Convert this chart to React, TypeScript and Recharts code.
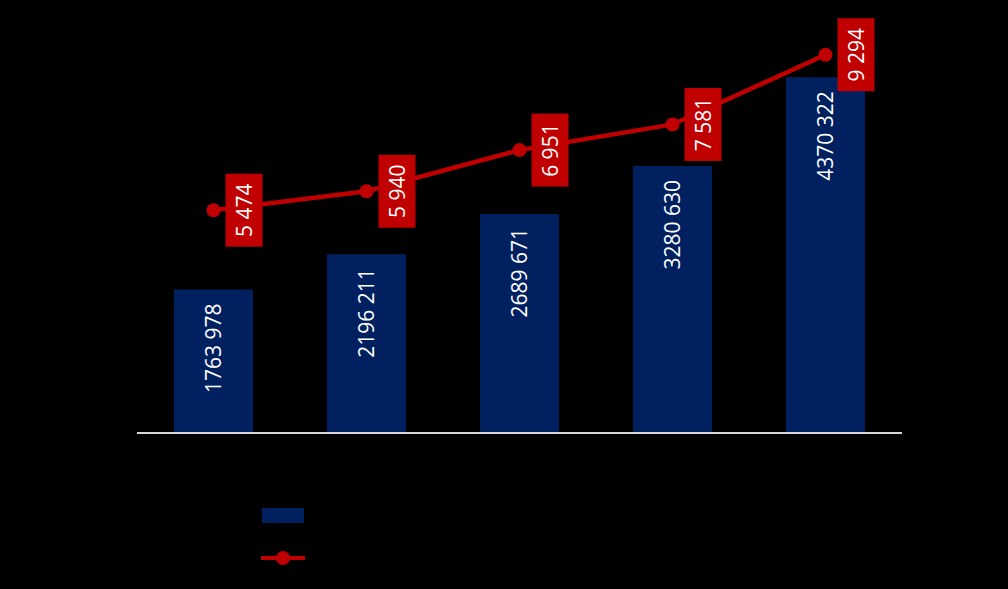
import { ComposedChart, Bar, Line, XAxis, YAxis, LabelList } from 'recharts';

// category labels are drawn in black on black in the original, so they are not shown
const categories = ['1', '2', '3', '4', '5'];
const barValues = [1763978, 2196211, 2689671, 3280630, 4370322];
const lineValues = [5474, 5940, 6951, 7581, 9294];

const BAR_COLOR = '#002060';
const LINE_COLOR = '#c00000';
const FONT = '"Open Sans", sans-serif';

const data = categories.map((c, i) => ({
  name: c,
  bar: barValues[i],
  line: lineValues[i],
}));

// only the last group of three digits is split off, as in the source ("1763 978")
const fmt = (n: number) =>
  `${Math.floor(n / 1000)} ${String(n % 1000).padStart(3, '0')}`;

// value written upward inside the bar, starting near its top
const BarLabel = (props: any) => {
  const { x, y, width, value } = props;
  const cx = x + width / 2;
  const ty = y + 14;
  return (
    <text
      x={cx}
      y={ty}
      fill="#ffffff"
      fontSize={21}
      fontFamily={FONT}
      textAnchor="end"
      dominantBaseline="central"
      transform={`rotate(-90, ${cx}, ${ty})`}
    >
      {fmt(value)}
    </text>
  );
};

// red box to the right of each point
const LineLabel = (props: any) => {
  const { x, y, value } = props;
  const bx = x + 12;
  const tx = bx + 18.5;
  return (
    <g>
      <rect x={bx} y={y - 36.5} width={37} height={73} fill={LINE_COLOR} />
      <text
        x={tx}
        y={y}
        fill="#ffffff"
        fontSize={21}
        fontFamily={FONT}
        textAnchor="middle"
        dominantBaseline="central"
        transform={`rotate(-90, ${tx}, ${y})`}
      >
        {fmt(value)}
      </text>
    </g>
  );
};

export default function App() {
  return (
    <div
      style={{
        position: 'absolute',
        left: 0,
        top: 0,
        width: 1008,
        height: 589,
        background: '#000000',
        overflow: 'hidden',
      }}
    >
      <ComposedChart
        width={1008}
        height={589}
        data={data}
        margin={{ top: 26, right: 106, bottom: 126, left: 137 }}
      >
        <XAxis
          dataKey="name"
          height={30}
          tick={false}
          tickLine={false}
          axisLine={{ stroke: '#d9d9d9', strokeWidth: 2 }}
        />
        <YAxis yAxisId="left" hide domain={[0, 5000000]} />
        <YAxis yAxisId="right" orientation="right" hide domain={[0, 10000]} />
        <Bar
          yAxisId="left"
          dataKey="bar"
          fill={BAR_COLOR}
          barSize={79}
          isAnimationActive={false}
        >
          <LabelList dataKey="bar" content={BarLabel} />
        </Bar>
        <Line
          yAxisId="right"
          dataKey="line"
          stroke={LINE_COLOR}
          strokeWidth={4.5}
          dot={{ r: 7, fill: LINE_COLOR, stroke: LINE_COLOR, strokeWidth: 0 }}
          activeDot={false}
          isAnimationActive={false}
        >
          <LabelList dataKey="line" content={LineLabel} />
        </Line>
      </ComposedChart>

      {/* legend: only the keys are visible, the text is black */}
      <div
        style={{
          position: 'absolute',
          left: 262,
          top: 508,
          width: 42,
          height: 15,
          background: BAR_COLOR,
        }}
      />
      <svg
        style={{ position: 'absolute', left: 256, top: 546 }}
        width={56}
        height={24}
      >
        <line x1={5} y1={12} x2={49} y2={12} stroke={LINE_COLOR} strokeWidth={4} />
        <circle cx={27} cy={12} r={7} fill={LINE_COLOR} />
      </svg>
    </div>
  );
}
